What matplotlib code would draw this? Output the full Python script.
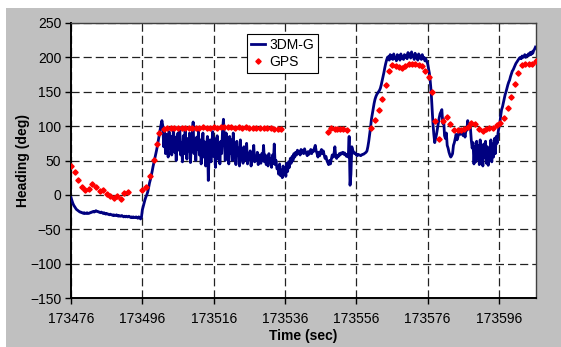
import numpy as np
import matplotlib.pyplot as plt
from matplotlib.patches import Rectangle

plt.rcParams['font.family'] = ['Liberation Sans', 'DejaVu Sans']

# 3DM-G heading, sampled every 0.25 s from t0 (one row = one second)
imu_t0 = 173476
imu_dt = 0.25
imu_v = [
    -4, -8, -12, -15,   -17, -19, -21, -22,   -23, -24, -25, -25,   -26, -26, -27, -26,
    -27, -27, -26, -27, -27, -26, -26, -25,   -25, -24, -25, -24,   -23, -24, -24, -25,
    -25, -26, -25, -26, -27, -26, -27, -28,   -27, -28, -28, -29,   -28, -29, -29, -30,
    -29, -30, -30, -29, -30, -31, -30, -31,   -31, -30, -31, -32,   -31, -32, -31, -32,
    -32, -31, -32, -33, -32, -33, -32, -33,   -33, -32, -33, -34,   -32, -33, -35, -33,
    -22, -17, -12, -7,  -3, 0, 4, 10,         17, 22, 28, 34,       41, 47, 53, 59,
    65, 72, 80, 87,     95, 102, 108, 100,    70, 95, 60, 88,       75, 55, 92, 68,
    85, 58, 78, 96,     62, 84, 50, 80,       90, 65, 98, 58,       76, 48, 86, 60,
    95, 70, 52, 82,     64, 90, 47, 75,       88, 106, 60, 78,      50, 84, 66, 93,
    58, 80, 45, 72,     90, 55, 77, 42,       68, 85, 21, 60,       80, 48, 74, 92,
    56, 82, 40, 70,     86, 52, 75, 45,       78, 60, 95, 110,      85, 50, 90, 62,
    75, 45, 85, 60,     80, 50, 90, 55,       72, 44, 78, 58,       68, 42, 80, 52,
    62, 46, 70, 50,     58, 75, 45, 60,       52, 64, 42, 56,       60, 72, 48, 54,
    50, 62, 44, 58,     54, 46, 60, 50,       72, 48, 58, 44,       55, 42, 60, 48,
    52, 40, 58, 46,     74, 44, 50, 38,       40, 30, 45, 28,       36, 25, 42, 30,
    38, 27, 46, 34,     48, 40, 53, 46,       56, 50, 60, 55,       62, 58, 65, 60,
    63, 58, 66, 61,     65, 60, 67, 62,       60, 57, 63, 59,       62, 66, 60, 65,
    63, 68, 72, 64,     60, 55, 62, 57,       63, 66, 60, 64,       58, 53, 56, 50,
    47, 44, 50, 45,     52, 58, 55, 60,       70, 55, 53, 57,       56, 60, 58, 61,
    60, 62, 59, 61,     58, 56, 59, 55,       85, 14, 30, 70,       65, 62, 60, 61,
    58, 57, 59, 58,     58, 57, 58, 59,       59, 60, 61, 62,       64, 70, 78, 88,
    98, 110, 118, 126,  133, 139, 143, 146,   148, 150, 152, 155,   160, 166, 172, 178,
    185, 191, 196, 200, 201, 196, 204, 198,   203, 197, 205, 199,   200, 195, 204, 198,
    202, 196, 205, 199, 201, 197, 204, 200,   203, 198, 207, 201,   205, 199, 208, 202,
    203, 197, 206, 200, 201, 196, 205, 199,   202, 197, 204, 198,   200, 195, 198, 194,
    191, 184, 177, 165, 150, 128, 104, 88,    76, 82, 88, 96,       104, 112, 118, 121,
    124, 104, 110, 86,  82, 90, 72, 68,       62, 58, 55, 57,       60, 72, 76, 82,
    88, 80, 84, 90,     96, 88, 92, 90,       86, 92, 84, 94,       94, 108, 100, 104,
    98, 80, 68, 76,     45, 70, 48, 78,       52, 72, 44, 80,       50, 66, 42, 74,
    55, 78, 46, 70,     43, 68, 52, 80,       48, 74, 55, 82,       60, 85, 75, 90,
    98, 104, 115, 124,  128, 134, 140, 146,   150, 155, 160, 164,   167, 172, 176, 180,
    182, 185, 188, 191, 193, 195, 197, 199,   200, 198, 202, 200,   201, 204, 200, 203,
    202, 205, 203, 207, 204, 208, 206, 210,   212, 215,
]

# GPS heading
gps_t = [
    173476, 173477, 173478, 173479, 173480, 173481, 173482, 173483, 173484,
    173485, 173486, 173487, 173488, 173489, 173490, 173491, 173492,
    173496, 173497, 173498.2, 173499.2, 173500.1, 173500.8,
    173502, 173503, 173504, 173505, 173506, 173507, 173508, 173509, 173510,
    173511, 173512, 173513, 173514, 173515, 173516, 173517, 173518, 173519,
    173520, 173521, 173522, 173523, 173524, 173525, 173526, 173527, 173528,
    173529, 173530, 173531, 173532, 173533, 173534, 173535,
    173548.2, 173549, 173549.9, 173550.7, 173551.5, 173552.4, 173553.3,
    173560.2, 173561.3, 173562.3, 173563.2, 173564.3, 173565.2, 173566.1,
    173567.1, 173568, 173568.8, 173569.8, 173570.7, 173571.6, 173572.5,
    173573.5, 173574.4, 173575.3, 173576.3, 173577.3, 173578.2, 173579.3,
    173580.3, 173581.4, 173582.4, 173583.3, 173584.4, 173585.4, 173586.3,
    173587.4, 173588.3, 173589.3, 173590.4, 173591.4, 173592.4, 173593.3,
    173594.4, 173595.4, 173596.3, 173597.4, 173598.5, 173599.4, 173600.4,
    173601.4, 173602.5, 173603.4, 173604.4, 173605.4, 173606.4,
]
gps_v = [
    42.5, 34, 22, 11, 7, 8, 16, 11, 6,
    7, 1, -1, -5, -1, -6, 3, 4,
    7, 11.5, 28, 51, 74, 90,
    96.5, 97, 97.5, 97, 97.5, 98, 97.5, 98, 98,
    97.5, 98, 98.5, 98, 98, 98.5, 98, 98.5, 99,
    98.5, 98.5, 98, 98.5, 98, 98.5, 98, 97.5, 98,
    97.5, 97.5, 97, 97, 96.5, 96, 95.5,
    92, 97, 96.5, 96.5, 96, 96, 95,
    97.5, 109, 123, 139.5, 160, 180.5, 188.5,
    187.5, 186.5, 184, 187.5, 190, 191, 190,
    189, 187.5, 180.5, 171, 150, 108, 82,
    107.5, 113, 103.5, 94, 94, 94, 96,
    99, 105, 102.5, 96, 93.5, 96, 97.3,
    97.8, 101, 104, 112, 127, 143, 162,
    177, 189, 191, 191, 191, 195,
]

xticks = [173476, 173496, 173516, 173536, 173556, 173576, 173596]
yticks = [-150, -100, -50, 0, 50, 100, 150, 200, 250]

imu_t = imu_t0 + imu_dt * np.arange(len(imu_v))

fig = plt.figure(figsize=(5.61, 3.47), dpi=100, facecolor='white')
fig.patches.append(Rectangle((6 / 561, 0), 1, 1 - 8 / 347, transform=fig.transFigure,
                             facecolor='#c0c0c0', edgecolor='none', zorder=-10))
ax = fig.add_axes([71 / 561, 49 / 347, 465 / 561, 275 / 347])
ax.set_facecolor('white')

ax.plot(imu_t, imu_v, color='#000080', lw=2.0, label='3DM-G', zorder=3)
ax.plot(gps_t, gps_v, ls='none', marker='D', ms=2.7, color='red', mec='red',
        label='GPS', zorder=4)

ax.set_xlim(173476, 173606.4)
ax.set_ylim(-150, 250)
ax.set_xticks(xticks)
ax.set_xticklabels([str(t) for t in xticks])
ax.set_yticks(yticks)

ax.grid(True, color='#222222', lw=0.9, ls=(0, (6.5, 3.2)))
ax.set_axisbelow(True)

for s in ['left', 'bottom']:
    ax.spines[s].set_linewidth(1.4)
    ax.spines[s].set_color('black')
for s in ['top', 'right']:
    ax.spines[s].set_linewidth(1.0)
    ax.spines[s].set_color('#404040')

ax.tick_params(axis='both', direction='out', length=4, width=1, labelsize=10, color='black')
ax.tick_params(axis='x', pad=6)
ax.tick_params(axis='y', pad=3)

ax.set_xlabel('Time (sec)', fontsize=10, fontweight='bold', labelpad=2)
ax.set_ylabel('Heading (deg)', fontsize=10, fontweight='bold', labelpad=0)

leg = ax.legend(loc='upper left', bbox_to_anchor=(0.3785, 0.96), borderaxespad=0,
                fontsize=10, frameon=True, fancybox=False, handlelength=1.0,
                handletextpad=0.3, borderpad=0.3, labelspacing=0.2, framealpha=1)
leg.get_frame().set_edgecolor('black')
leg.get_frame().set_linewidth(0.8)

fig.savefig('out.png', dpi=100, facecolor=fig.get_facecolor())
